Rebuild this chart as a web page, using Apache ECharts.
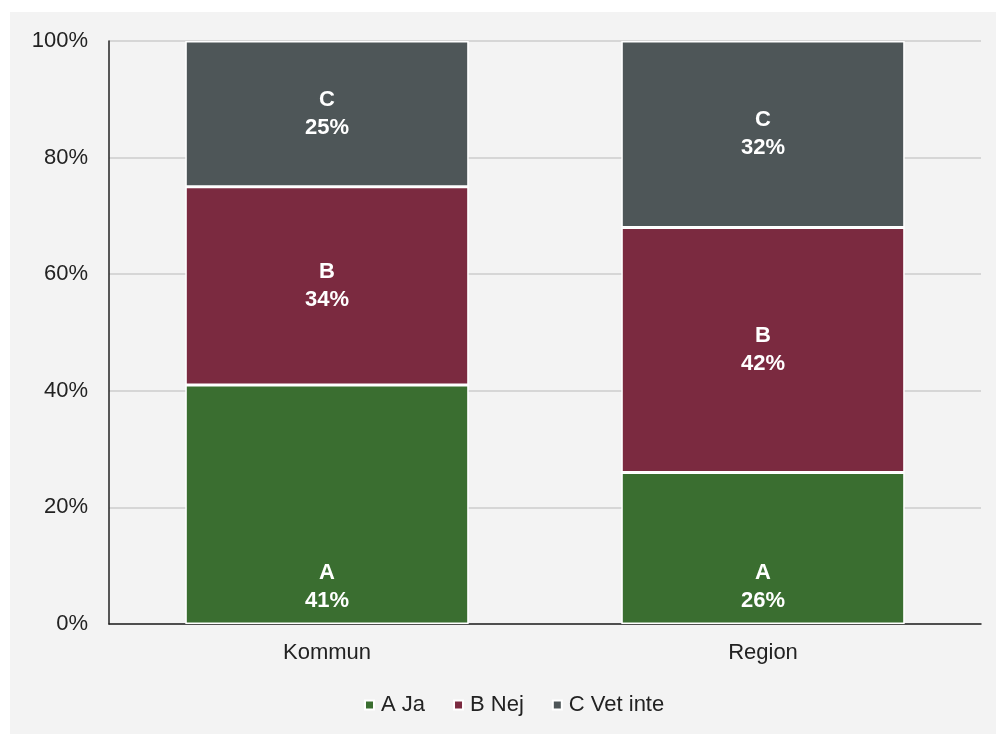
<!DOCTYPE html>
<html>
<head>
<meta charset="utf-8">
<script src="https://cdn.jsdelivr.net/npm/echarts@6/dist/echarts.min.js"></script>
<style>
html,body{margin:0;padding:0;background:#ffffff;}
#chart{width:996px;height:734px;}
</style>
</head>
<body>
<div id="chart"></div>
<script>
var categories = ['Kommun', 'Region'];
var seriesNames = ['A Ja', 'B Nej', 'C Vet inte'];
var shortNames = ['A', 'B', 'C'];
var valuesA = [41, 26];
var valuesB = [34, 42];
var valuesC = [25, 32];
var colors = ['#3a6e30', '#7b2a40', '#4e5658'];
var yTicks = [0, 20, 40, 60, 80, 100];

var allValues = [valuesA, valuesB, valuesC];
var chart = echarts.init(document.getElementById('chart'), null, {renderer: 'canvas'});
var font = 'Liberation Sans, Arial, sans-serif';

var series = allValues.map(function (vals, i) {
  return {
    name: seriesNames[i],
    type: 'bar',
    stack: 'total',
    barWidth: '65%',
    data: vals,
    itemStyle: {color: colors[i], borderColor: '#ffffff', borderWidth: 1.5},
    label: {
      show: true,
      position: i === 0 ? 'insideBottom' : 'inside',
      distance: 9,
      color: '#ffffff',
      fontWeight: 'bold',
      fontSize: 22,
      lineHeight: 28,
      fontFamily: font,
      formatter: function (p) { return shortNames[i] + '\n' + p.value + '%'; }
    },
    emphasis: {disabled: true}
  };
});

chart.setOption({
  animation: false,
  backgroundColor: '#ffffff',
  graphic: [{
    type: 'rect',
    left: 10, top: 12,
    shape: {width: 986, height: 722},
    style: {fill: '#f3f3f3'},
    z: -10
  }],
  grid: {left: 109, right: 15, top: 41, bottom: 110},
  legend: {
    top: 694,
    left: 364,
    padding: 0,
    itemWidth: 9,
    itemHeight: 9,
    itemGap: 28,
    icon: 'rect',
    textStyle: {fontSize: 22, color: '#222222', fontFamily: font, padding: [0, 0, 0, 2]},
    data: seriesNames
  },
  xAxis: {
    type: 'category',
    data: categories,
    axisLine: {lineStyle: {color: '#222222', width: 1.5}},
    axisTick: {show: false},
    axisLabel: {fontSize: 22, color: '#222222', fontFamily: font, margin: 18}
  },
  yAxis: {
    type: 'value',
    min: yTicks[0],
    max: yTicks[yTicks.length - 1],
    interval: 20,
    axisLine: {show: true, lineStyle: {color: '#222222', width: 1.5}},
    axisTick: {show: false},
    splitLine: {lineStyle: {color: '#d6d6d6', width: 2}},
    axisLabel: {fontSize: 22, color: '#222222', fontFamily: font, margin: 21,
      formatter: function (v) { return v + '%'; }}
  },
  series: series
});
</script>
</body>
</html>
